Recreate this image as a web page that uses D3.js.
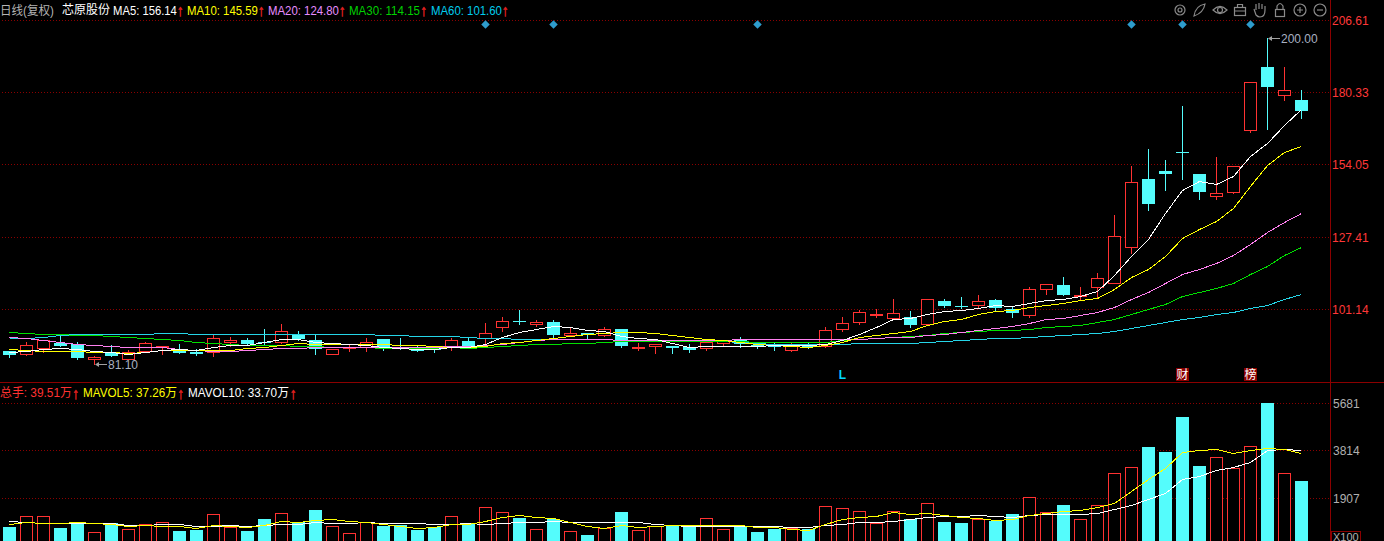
<!DOCTYPE html>
<html><head><meta charset="utf-8">
<script src="https://cdn.jsdelivr.net/npm/d3@7/dist/d3.min.js"></script>
<style>html,body{margin:0;padding:0;background:#000;overflow:hidden}svg{display:block}text{font-family:"Liberation Sans","Noto Sans CJK SC",sans-serif}</style>
</head><body><div id="c"></div>
<script>
const open=[85.81,84.82,87,88.72,88.47,83.15,85.08,83.15,86.06,87.63,86.79,85.44,85.55,89.19,90.07,89.34,89.19,91.89,90.07,84.82,87.04,87.52,90.43,87.37,86.53,86.9,87.74,89.7,90.65,94.66,96.99,95.75,96.63,91.64,92.37,91.74,94.07,87.26,87.74,87.63,87.52,87,88.83,90.29,88,88,86.28,87.88,87.74,93.93,96.48,99.07,97.94,98.45,95.75,104.02,102.56,102.67,104.39,101.11,99.03,108.5,109.85,105.84,109.23,110.94,123.8,148.47,151.74,158.65,150.65,142.38,143.84,166.57,189.63,179.18,177.61];
const high=[85.81,89.34,89.92,91.64,89.34,84.24,88,86.53,89.34,87.88,88.36,86.79,92,91.16,90.65,93.82,95.64,93.35,92,86.79,88,90.54,90.43,90.54,88,86.9,90.65,91.01,96.01,98.45,100.74,97.46,97.1,94.19,92.37,94.91,94.07,88.97,88.61,87.63,88.36,90.43,89.81,90.91,89.34,88.97,89.19,89.19,94.55,98.19,100.74,101.11,104.75,100.38,105,104.75,105.48,106.46,105,102.56,109.12,110.47,112.77,109.12,114.22,135.35,153.31,159.4,155.39,175.42,150.65,156.48,153.45,184.06,200,189.63,181.25];
const low=[83.62,84.46,85.55,87.63,83,81.1,83.99,82.89,85.55,84.82,85.08,84.46,84.09,87.74,88.61,88.36,88.97,89.81,84.97,84.82,85.91,85.91,86.28,86.79,85.91,85.55,86.28,87.37,88.36,93.2,95.64,95.02,91.16,91.64,90.54,91.38,87.26,86.28,85.08,85.08,85.55,86.28,88,87.37,87,86.53,85.91,87,87.37,93.2,95.64,98.45,97.94,94.55,95.53,101.84,101.47,101.84,100.63,98.55,98.19,106.57,106.21,104.86,105.48,110.94,121.51,137.28,144.57,148.47,141.18,141.18,143.48,165.7,166.79,177.35,170.8];
const close=[84.35,88.25,89.92,87.63,83.36,83.87,84.09,85.7,88.72,87.88,85.08,84.82,90.8,89.92,88.61,89.08,93.2,90.18,86.79,86.79,87.26,89.19,87,87.15,85.91,86.53,90.07,87.37,92.62,96.99,96.77,96.63,91.99,92.37,91.74,94.07,87.63,87.48,88.61,87,86.28,89.19,89.7,88.47,87.26,87.37,88,87.63,93.71,96.26,100.27,99.29,99.9,95.28,105,102.56,102.2,104.28,101.47,99.65,108.65,110.47,106.21,106.21,112.65,128.06,147.63,139.47,150.29,158.41,143.84,143.62,153.45,184.06,182.09,181.14,173.35];
const ma5=[85.5,86,86.8,87.1,86.8,86,85.5,85,85.5,86.3,86.8,86.3,87.3,88,88,89.2,90.2,90.4,89.4,89,88.4,88,87.4,87,86.8,86.8,87.5,87.4,88.7,91,93,94.1,95,94.6,93.6,93.2,91.6,90.8,90.2,89,87.4,87.9,87.9,87.9,87.9,88.2,88.2,88.1,88.4,89.9,92.1,94.8,97.7,98.1,99.6,100.4,100.8,101.7,102.8,102.3,103.5,104.6,105.1,106.2,107.8,113.6,120.5,126.9,136.4,144.8,147.8,146.9,149.9,156.9,161.8,168.5,174.2];
const ma10=[86.8,86.3,86,86,86,85.8,85.5,85.4,85.8,86.3,86.5,86.3,86.3,86.5,86.9,87.6,88.2,88.8,88.6,88.6,88.6,88.5,88.4,88.2,88,87.7,87.5,87.4,87.9,88.8,89.3,90,90.8,91.4,92.1,92.6,92.8,92.8,92.6,91.9,91.1,90.4,89.9,89.2,88.5,88.1,87.7,87.6,88.2,89.4,91,91.7,92.7,93.3,95.5,96.8,97.7,99.6,100.5,101.1,101.9,102.7,103.6,104.5,105.2,108.4,112.9,115.9,120.5,127.1,130.3,133.3,138.2,146,153.9,158.4,160.7];
const ma20=[91.1,90.6,89.9,89.2,88.6,88.2,87.9,87.5,87.4,87.3,86.8,86.3,86,86,86.4,86.8,87,87.2,87.3,87.3,87.3,87.3,87.4,87.4,87.5,87.5,87.9,87.7,88.2,88.6,89.2,89.9,90.2,90.2,90.2,90.2,89.9,89.9,89.9,89.9,90,90,90,90.2,90.2,90.3,90.3,90.3,90.3,90.4,90.5,90.8,91,91.1,91.7,92.3,93,93.6,94.3,95,96.3,97.5,98.1,99,100.1,101.9,105,107.4,110.6,113.9,115.8,118.2,121.1,125.1,129.2,132.9,136.3];
const ma30=[93,92.6,92.3,92,91.9,91.7,91.6,91.1,90.8,90.4,89.9,89.3,89,88.4,88.1,88,88,87.9,87.7,87.5,87.3,87.3,87.2,87.2,87.2,87.2,87.4,87,87.5,87.9,88.2,88.6,88.6,89,89,89.3,89.6,89.7,89.7,89.7,89.7,89.7,89.7,89.6,89.4,89.3,89.3,89.3,89.4,89.9,90.4,90.8,91.1,91.4,91.7,92.4,93,93.4,93.7,93.7,94.1,94.6,95.2,95.6,96.5,97.5,99.4,101.4,103.2,106,107.5,108.8,110.6,113.9,116.8,120.8,124];
const ma60=[90.54,90.72,91.09,91.64,92,92.3,92.3,92.3,92.3,92.5,92.4,92,92,92,92,92,92,92,92,92,92,92,91.8,91.8,91.5,91.5,91.5,91.1,90.8,90.8,90.3,90.2,90.2,90.2,90.2,90.2,89.9,89.8,89.9,89.8,89.8,89.7,89.7,89.3,89,88.6,88.5,88.5,88.5,88.6,88.8,89,89,89,89.3,89.7,90.1,90.4,90.8,90.8,91.1,91.5,91.9,92.3,92.6,93.3,94.4,95.5,96.6,97.7,98.4,99.3,100.2,101.5,102.9,105.1,106.6];
const volume=[717,1186,1186,677,917,545,905,665,865,917,557,597,1266,745,557,1038,1306,917,1398,785,505,917,757,797,597,745,1186,905,1546,1346,1078,665,1038,585,397,705,1318,625,785,785,745,1106,665,785,517,637,705,649,1586,1506,1386,905,1386,1066,1707,917,877,1066,957,1238,1947,1318,1598,1066,1626,2908,3149,3922,3722,5124,3161,3549,3109,3990,5685,2908,2560];
const mavol5=[865,929,905,905,945,889,865,757,797,785,785,705,825,785,729,809,969,929,1010,1066,985,917,865,757,705,745,837,837,957,1146,1210,1118,1106,929,769,689,809,745,757,825,825,825,825,825,745,745,665,609,837,1066,1146,1186,1346,1238,1306,1198,1130,1106,997,1066,1210,1306,1370,1426,1530,1707,2171,2640,3109,3734,3814,3870,3710,3814,3910,3870,3682];
const mavol10=[985,929,905,905,905,905,877,809,825,865,849,785,785,809,769,825,849,865,929,905,905,945,905,905,905,865,849,889,865,905,945,945,985,945,945,945,945,945,865,797,757,785,785,785,769,757,729,729,809,865,945,945,985,1038,1146,1186,1186,1226,1158,1130,1198,1238,1266,1266,1290,1438,1610,1839,2107,2640,2772,2998,3149,3349,3814,3842,3802];
const priceTicks=[206.61,180.33,154.05,127.41,101.14];
const volTicks=[5681,3814,1907];
const markerIdx=[28,32,44,66,69,73];
const tagItems=[{i:49,t:"L",bg:null},{i:69,t:"财",bg:"#8b0000"},{i:73,t:"榜",bg:"#8b0000"}];
const priceLegend=[
 {t:"MA5: 156.14",c:"#ffffff",x:113,w:64,ax:180.5},{t:"MA10: 145.59",c:"#ffff00",x:187,w:71,ax:261.5},
 {t:"MA20: 124.80",c:"#e68cff",x:268,w:71,ax:342.5},{t:"MA30: 114.15",c:"#00d000",x:349,w:71,ax:424},
 {t:"MA60: 101.60",c:"#00ccee",x:431,w:71,ax:505.5}];
const volLegend=[
 {t:"总手: 39.51万",c:"#ff3232",x:0,w:72,ax:76},{t:"MAVOL5: 37.26万",c:"#ffff00",x:83,w:94,ax:181},
 {t:"MAVOL10: 33.70万",c:"#ffffff",x:188,w:101,ax:293.3}];

const W=1384,H=541,n=close.length;
const RED="#ff3232",CY="#54fcfc",DK="#8b0000";
const svg=d3.select("#c").append("svg").attr("width",W).attr("height",H).style("background","#000");
const x=d3.scaleLinear().domain([0,76]).range([9,1301]);
const y=d3.scaleLinear().domain([206.61,101.14]).range([20.4,309.9]);
const yv=d3.scaleLinear().domain([0,5681]).range([545.7,403.9]);
const row=v=>Math.floor(v);
const idx=d3.range(n);

const grid=svg.append("g").attr("stroke",DK).attr("shape-rendering","crispEdges").attr("stroke-dasharray","1 2");
grid.selectAll(".p").data(priceTicks).join("line").attr("x1",2).attr("x2",1330).attr("y1",d=>row(y(d))+.5).attr("y2",d=>row(y(d))+.5);
grid.selectAll(".v").data(volTicks).join("line").attr("x1",2).attr("x2",1330).attr("y1",d=>row(yv(d))+.5).attr("y2",d=>row(yv(d))+.5);

const cg=svg.append("g").attr("shape-rendering","crispEdges");
idx.forEach(i=>{
  const up=close[i]>=open[i],c=up?RED:CY,cx=x(i);
  const t=row(y(Math.max(open[i],close[i]))),b=row(y(Math.min(open[i],close[i])));
  const hi=row(y(high[i])),lo=row(y(low[i]));
  if(up){
    if(hi<t)cg.append("rect").attr("x",cx).attr("y",hi).attr("width",1).attr("height",t-hi).attr("fill",c);
    if(lo>b)cg.append("rect").attr("x",cx).attr("y",b).attr("width",1).attr("height",lo-b+1).attr("fill",c);
    cg.append("rect").attr("x",cx-6+.5).attr("y",t+.5).attr("width",12).attr("height",Math.max(b-t,1)).attr("fill","#000").attr("stroke",c);
  }else{
    cg.append("rect").attr("x",cx).attr("y",hi).attr("width",1).attr("height",lo-hi+1).attr("fill",c);
    cg.append("rect").attr("x",cx-6).attr("y",t).attr("width",13).attr("height",Math.max(b-t,1)).attr("fill",c);
  }
});

const vg=svg.append("g").attr("shape-rendering","crispEdges");
idx.forEach(i=>{
  const up=close[i]>=open[i],cx=x(i),t=row(yv(volume[i]));
  if(up)vg.append("rect").attr("x",cx-6+.5).attr("y",t+.5).attr("width",12).attr("height",H+5-t).attr("fill","#000").attr("stroke",RED);
  else vg.append("rect").attr("x",cx-6).attr("y",t).attr("width",13).attr("height",H-t).attr("fill",CY);
});

const lineP=d3.line().x((d,i)=>x(i)+.5).y(d=>row(y(d))+.5);
const lineV=d3.line().x((d,i)=>x(i)+.5).y(d=>row(yv(d))+.5);
const lg=svg.append("g").attr("fill","none").attr("stroke-width",1).attr("shape-rendering","crispEdges");
[[ma60,"#25d5e8"],[ma30,"#00e000"],[ma20,"#ff80f0"],[ma10,"#ffff00"],[ma5,"#ffffff"]].forEach(([a,c])=>lg.append("path").attr("d",lineP(a)).attr("stroke",c));
[[mavol10,"#ffffff"],[mavol5,"#ffff00"]].forEach(([a,c])=>lg.append("path").attr("d",lineV(a)).attr("stroke",c));

const fr=svg.append("g").attr("stroke",DK).attr("shape-rendering","crispEdges");
fr.append("line").attr("x1",1330.5).attr("x2",1330.5).attr("y1",0).attr("y2",H);
fr.append("line").attr("x1",0).attr("x2",W).attr("y1",382.5).attr("y2",382.5);
fr.append("rect").attr("x",1331.5).attr("y",531.5).attr("width",29).attr("height",14).attr("fill","none");

const txt=(s,px,py,c,sz=12,anchor="start")=>svg.append("text").attr("x",px).attr("y",py).attr("fill",c).attr("font-size",sz).attr("text-anchor",anchor).attr("dominant-baseline","central").text(s);
// draws text squeezed horizontally to a measured width
const squeezed=(s,px,py,c,sz,w)=>{
  const t=svg.append("text").attr("fill",c).attr("font-size",sz).attr("dominant-baseline","central").text(s);
  t.attr("transform",`translate(${px},${py}) scale(${w/t.node().getComputedTextLength()},1)`);
  return t;
};
priceTicks.forEach(d=>txt(d3.format(".2f")(d),1332,row(y(d))+1,"#ff3838"));
volTicks.forEach(d=>txt(String(d),1333,row(yv(d))+1,"#b0b0b0"));
txt("X100",1333,536.5,"#b0b0b0",11);

svg.append("g").selectAll("path").data(markerIdx).join("path")
  .attr("d",d3.symbol(d3.symbolDiamond2,46)())
  .attr("transform",d=>`translate(${x(d)+.5},24.5)`).attr("fill","#2e9ccc");

tagItems.forEach(d=>{
  const cx=x(d.i)+.5;
  if(d.bg)svg.append("rect").attr("x",cx-6.5).attr("y",368).attr("width",13).attr("height",13).attr("fill",d.bg);
  txt(d.t,cx,374.5,d.bg?"#fff":"#00d8ff",12,"middle").attr("font-weight",d.bg?400:700);
});

squeezed("日线(复权)",0,10,"#b4b4b4",12,54);
txt("芯原股份",62,10,"#ffffff",12);
const fit=(d,py)=>{
  squeezed(d.t,d.x,py,d.c,12,d.w);
  squeezed("↑",d.ax-3.4,py+.5,"#e02020",16,6.8).attr("stroke","#e02020").attr("stroke-width",.5);
};
priceLegend.forEach(d=>fit(d,10));
volLegend.forEach(d=>fit(d,393));

const hiI=d3.maxIndex(high),loI=d3.minIndex(low);
const ext=(i,v,yy)=>{
  const cx=x(i)+1;
  svg.append("line").attr("x1",cx+1).attr("x2",cx+12).attr("y1",yy+.5).attr("y2",yy+.5).attr("stroke","#a0a0a0").attr("shape-rendering","crispEdges");
  svg.append("path").attr("d",`M${cx},${yy+.5}l4,-2.5v5z`).attr("fill","#a0a0a0");
  txt(d3.format(".2f")(v),cx+13,yy+1,"#a8b0c0");
};
ext(hiI,high[hiI],row(y(high[hiI])));
ext(loI,low[loI],row(y(low[loI])));

const tb=svg.append("g").attr("fill","none").attr("stroke","#8a8a8a").attr("stroke-width",1.2);
tb.append("circle").attr("cx",1180).attr("cy",10).attr("r",5);tb.append("circle").attr("cx",1180).attr("cy",10).attr("r",2);
tb.append("path").attr("d","M1194,16C1195,9 1199,5 1205,4C1204,10 1200,14 1194,16Z");
tb.append("path").attr("d","M1213,10Q1220,3 1227,10Q1220,17 1213,10Z");tb.append("circle").attr("cx",1220).attr("cy",10).attr("r",2.5);
tb.append("rect").attr("x",1234.5).attr("y",7.5).attr("width",11).attr("height",8);tb.append("path").attr("d","M1237.5,7.5V4.5H1242.5V7.5M1234.5,11H1245.5");
tb.append("path").attr("d","M1256,15L1254,9M1256,10V4M1259,9V3M1262,9V4M1265,10V6M1265,10C1265,14 1264,17 1260,17C1258,17 1257,16 1256,15");
tb.append("rect").attr("x",1275.5).attr("y",9.5).attr("width",9).attr("height",7);tb.append("path").attr("d","M1277,9.5V6Q1280,1 1283,6V9.5");
tb.append("circle").attr("cx",1300).attr("cy",10).attr("r",6);tb.append("path").attr("d","M1297,10H1303M1300,7V13");
tb.append("circle").attr("cx",1320).attr("cy",10).attr("r",6);tb.append("path").attr("d","M1317,10H1323");
</script></body></html>
